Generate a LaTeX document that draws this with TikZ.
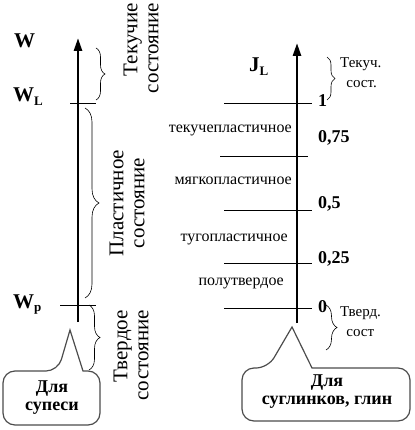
\documentclass[tikz,border=0pt]{standalone}
\usepackage{fontspec}
\setmainfont{Liberation Serif}
\usetikzlibrary{positioning,arrows.meta,decorations.pathreplacing}
\tikzset{axis line/.style={line width=2.6pt,-{Triangle[width=8pt,length=13pt]}},
tick line/.style={line width=0.8pt},
state brace/.style={decorate,decoration={brace,amplitude=#1},line width=0.6pt},
big label/.style={font=\fontsize{21}{23}\selectfont\bfseries,inner sep=0pt},
value label/.style={font=\fontsize{18}{20}\selectfont\bfseries,inner sep=0pt},
zone label/.style={font=\fontsize{16}{18}\selectfont,inner sep=0pt},
state text/.style={font=\fontsize{21}{21}\selectfont,rotate=90,align=#1,inner sep=0pt},
small state/.style={font=\fontsize{15}{20}\selectfont,align=left,inner sep=0pt},
callout box/.style={draw=black!70,line width=1.2pt,rounded corners=12pt},
callout text/.style={font=\fontsize{18}{18}\selectfont\bfseries,align=center,inner sep=0pt}}
\newcommand{\lowidx}[1]{\raisebox{-0.35ex}{\fontsize{13}{13}\selectfont #1}}

\begin{document}
\begin{tikzpicture}[x=1pt,y=-1pt]
\useasboundingbox (0,0) rectangle (414,430);
% left scale: W
\coordinate (W base) at (78,322);
\coordinate (W top) at (78,38);
\draw[axis line] (W base) -- (W top);
\draw[tick line] (70,103) coordinate (WL a) -- (96,103) coordinate (WL b);
\draw[tick line] (60,305) coordinate (Wp a) -- (96,305) coordinate (Wp b);
\node[big label,anchor=base west] (W) at (14,48) {W};
\node[big label,anchor=base west] (WL) at (13,102) {W\lowidx{L}};
\node[big label,anchor=base west] (Wp) at (13,308) {W\lowidx{p}};
\draw[state brace=9pt] (96,48) -- (96,100);
\draw[state brace=14pt] (85,108) -- (85,298);
\draw[state brace=11pt] (89,305) -- (89,370);
\node[state text=right,anchor=east] (fluid) at (141,3) {Текучие\\состояние};
\node[state text=center] (plastic) at (127,203) {Пластичное\\состояние};
\node[state text=right,anchor=east] (solid) at (131,310) {Твердое\\состояние};
% callout for sandy loam
\coordinate (sup tip) at (70,330);
\draw[callout box] (58,371) [sharp corners] -- (sup tip) -- (83,371) [rounded corners=12pt] -- (100,371) -- (100,425) -- (3,425) -- (3,371) -- cycle;
\node[callout text] (sup) at (52,398) {Для\\супеси};

% right scale: J_L
\coordinate (J base) at (297,323);
\coordinate (J top) at (297,43);
\draw[axis line] (J base) -- (J top);
\node[big label,anchor=base west] (JL) at (249,72) {J\lowidx{L}};
\draw[tick line] (224,103) coordinate (t1 a) -- (312,103) coordinate (t1 b);
\draw[tick line] (220,156) coordinate (t2 a) -- (308,156) coordinate (t2 b);
\draw[tick line] (224,210) coordinate (t3 a) -- (312,210) coordinate (t3 b);
\draw[tick line] (224,263) coordinate (t4 a) -- (312,263) coordinate (t4 b);
\draw[tick line] (224,308) coordinate (t5 a) -- (312,308) coordinate (t5 b);
\node[value label,anchor=base west] (v1) at (318,107) {1};
\node[value label,anchor=base west] (v2) at (318,143) {0,75};
\node[value label,anchor=base west] (v3) at (318,208) {0,5};
\node[value label,anchor=base west] (v4) at (318,263) {0,25};
\node[value label,anchor=base west] (v5) at (318,312) {0};
\node[zone label,anchor=base east] (z1) at (292,133) {текучепластичное};
\node[zone label,anchor=base east] (z2) at (292,185) {мягкопластичное};
\node[zone label,anchor=base east] (z3) at (288,241) {тугопластичное};
\node[zone label,anchor=base east] (z4) at (284,285) {полутвердое};
\draw[state brace=8pt] (327,57) -- (327,100);
\draw[state brace=11pt] (326,305) -- (326,350);
\node[small state,anchor=west] (fluid2) at (340,73) {Текуч.\\\ \,сост.};
\node[small state,anchor=west] (solid2) at (340,322) {Тверд.\\\ \,сост};
% callout for loams and clays
\coordinate (clay tip) at (292,327);
\draw[callout box] (268,368) [sharp corners] -- (clay tip) -- (312,368) [rounded corners=12pt] -- (410,368) -- (410,421) -- (242,421) -- (242,368) -- cycle;
\node[callout text] (clay) at (327,392) {Для\\суглинков, глин};
\end{tikzpicture}
\end{document}
